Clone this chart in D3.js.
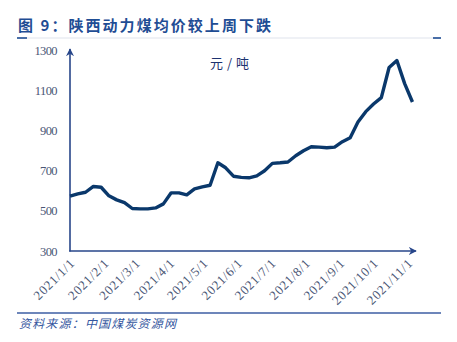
<!DOCTYPE html>
<html><head><meta charset="utf-8">
<script src="https://cdn.jsdelivr.net/npm/d3@7"></script>
<style>
html,body{margin:0;padding:0;background:#fff;}
svg{display:block;}
</style></head>
<body>
<svg id="chart" width="457" height="342"></svg>
<script>
const titleText = "图 9：陕西动力煤均价较上周下跌";
const unitText = "元/吨";
const sourceText = "资料来源：中国煤炭资源网";
const dates = ["2021-01-01","2021-01-08","2021-01-15","2021-01-22","2021-01-29",
"2021-02-05","2021-02-12","2021-02-19","2021-02-26",
"2021-03-05","2021-03-12","2021-03-19","2021-03-26",
"2021-04-02","2021-04-09","2021-04-16","2021-04-23","2021-04-30",
"2021-05-07","2021-05-14","2021-05-21","2021-05-28",
"2021-06-04","2021-06-11","2021-06-18","2021-06-25",
"2021-07-02","2021-07-09","2021-07-16","2021-07-23","2021-07-30",
"2021-08-06","2021-08-13","2021-08-20","2021-08-27",
"2021-09-03","2021-09-10","2021-09-17","2021-09-24",
"2021-10-01","2021-10-08","2021-10-15","2021-10-22","2021-10-29",
"2021-11-05"];
const prices = [574,585,593,622,618,575,555,541,512,510,510,515,535,590,590,580,610,620,628,740,715,673,667,665,675,700,737,740,744,775,800,820,818,815,818,845,865,943,995,1033,1065,1215,1250,1135,1043];
const yTicks = [300,500,700,900,1100,1300];
const xTickLabels = ["2021/1/1","2021/2/1","2021/3/1","2021/4/1","2021/5/1","2021/6/1","2021/7/1","2021/8/1","2021/9/1","2021/10/1","2021/11/1"];

const svg = d3.select("#chart");
const parse = d3.timeParse("%Y-%m-%d");
const parseTick = d3.timeParse("%Y/%m/%d");
const data = dates.map((d,i)=>({date:parse(d), v:prices[i]}));

const blue = "#27468a";
const lineColor = "#0a386b";
const tickColor = "#4a5675";

const x = d3.scaleTime().domain([parse("2021-01-01"), parse("2021-11-01")]).range([70, 408]);
const y = d3.scaleLinear().domain([300,1300]).range([251, 50.5]);

// title
svg.append("text").attr("x",18).attr("y",31)
  .attr("font-family","'Noto Sans CJK SC', 'Noto Sans', sans-serif")
  .attr("font-weight","bold").attr("font-size",15).attr("fill","#1f4d94")
  .attr("textLength",253).attr("lengthAdjust","spacing")
  .text(titleText);

// title rule
svg.append("line").attr("x1",18).attr("x2",441).attr("y1",38).attr("y2",38)
  .attr("stroke","#dfe3ec").attr("stroke-width",1);
svg.append("line").attr("x1",17).attr("x2",27).attr("y1",38).attr("y2",38)
  .attr("stroke","#1f4d94").attr("stroke-width",1.6);
svg.append("line").attr("x1",433).attr("x2",441).attr("y1",38).attr("y2",38)
  .attr("stroke","#1f4d94").attr("stroke-width",1.6);

// arrow marker
const defs = svg.append("defs");
defs.append("marker").attr("id","arrow").attr("viewBox","0 0 10 10")
  .attr("refX",9).attr("refY",5).attr("markerWidth",8).attr("markerHeight",8)
  .attr("markerUnits","userSpaceOnUse").attr("orient","auto")
  .append("path").attr("d","M0,0 L10,5 L0,10 L3,5 Z").attr("fill",blue);

// y axis labels
const yAxis = d3.axisLeft(y).tickValues(yTicks).tickFormat(d3.format("d")).tickSize(0).tickPadding(13);
const gy = svg.append("g").attr("transform","translate(70,0)").call(yAxis);
gy.select(".domain").remove();
gy.selectAll("text").attr("font-family","'Liberation Serif', serif").attr("font-size",12.5)
  .attr("fill",tickColor).attr("letter-spacing","-0.6");

// x axis labels
const xAxis = d3.axisBottom(x).tickValues(xTickLabels.map(s=>parseTick(s)))
  .tickFormat((d,i)=>xTickLabels[i]).tickSize(0);
const gx = svg.append("g").attr("transform","translate(0,251)").call(xAxis);
gx.select(".domain").remove();
gx.selectAll("text").attr("font-family","'Liberation Serif', serif").attr("font-size",13)
  .attr("letter-spacing","0.7")
  .attr("fill",tickColor).attr("text-anchor","end")
  .attr("dy",0).attr("y",0)
  .attr("transform","translate(5,13) rotate(-45)");

// axis lines
svg.append("line").attr("x1",70).attr("x2",70).attr("y1",251.5).attr("y2",49)
  .attr("stroke",blue).attr("stroke-width",1.6).attr("marker-end","url(#arrow)");
svg.append("line").attr("x1",69.2).attr("x2",416).attr("y1",251).attr("y2",251)
  .attr("stroke",blue).attr("stroke-width",1.6).attr("marker-end","url(#arrow)");

// line
const line = d3.line().x(d=>x(d.date)).y(d=>y(d.v));
svg.append("path").datum(data).attr("d",line).attr("fill","none")
  .attr("stroke",lineColor).attr("stroke-width",3.4).attr("stroke-linejoin","round");

// unit
svg.append("text").attr("x",210).attr("y",68)
  .attr("font-family","'Noto Sans CJK SC', sans-serif").attr("font-size",13)
  .attr("fill","#1c3270").attr("textLength",39).attr("lengthAdjust","spacing").text(unitText);

// source rule and text
svg.append("line").attr("x1",17).attr("x2",441).attr("y1",313).attr("y2",313)
  .attr("stroke","#3c5ea3").attr("stroke-width",1.3);
svg.append("text").attr("x",19).attr("y",328)
  .attr("font-family","'Noto Sans CJK SC', sans-serif").attr("font-size",12)
  .attr("font-style","italic").attr("fill","#3557a0")
  .attr("textLength",157).attr("lengthAdjust","spacing")
  .text(sourceText);
</script>
</body></html>
